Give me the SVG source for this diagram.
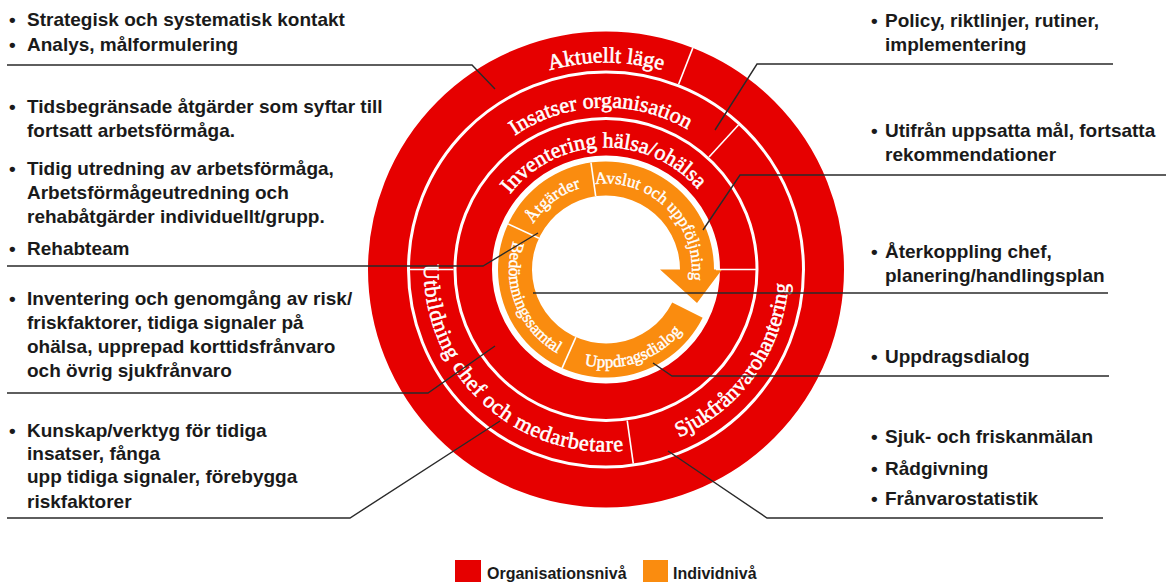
<svg xmlns="http://www.w3.org/2000/svg" width="1166" height="582" viewBox="0 0 1166 582">
<style>
.lbl{font-family:"Liberation Sans",Arial,sans-serif;font-weight:bold;font-size:19px;fill:#1a1a1a}
.ring{font-family:"Liberation Serif","Times New Roman",serif;font-size:22px;fill:#fff;stroke:#fff;stroke-width:0.55}
.oring{font-family:"Liberation Serif","Times New Roman",serif;font-size:17px;fill:#fff;stroke:#fff;stroke-width:0.4}
.div{stroke:#fff;stroke-width:1.6;fill:none}
.wr{stroke:#fff;stroke-width:3;fill:none}
.conn{stroke:#2a2a2a;stroke-width:1.4;fill:none}
.leg{font-family:"Liberation Sans",Arial,sans-serif;font-weight:bold;font-size:16px;fill:#1a1a1a}
</style>
<defs>
<path id="pAkt" d="M426.73,166 A207,207 0 0 1 785.27,166"/>
<path id="pIns" d="M462.96,193.45 A162,162 0 0 1 743.38,183.65"/>
<path id="pInv" d="M490.30,230.79 A122,122 0 0 1 719.51,224.79"/>
<path id="pUtb" d="M438.47,198.39 A182,182 0 0 0 688.63,431.66"/>
<path id="pSju" d="M588.46,451.66 A183,183 0 0 0 772.52,193.61"/>
<path id="pAtg" d="M522.04,250.89 A85,85 0 0 1 609.75,184.58"/>
<path id="pAvs" d="M569.65,191.56 A86,86 0 0 1 683.94,305.85"/>
<path id="pBed" d="M530.09,209.12 A97,97 0 0 0 591.66,365.43"/>
<path id="pUpp" d="M555.53,353.50 A98,98 0 0 0 697.49,304.62"/>
</defs>

<g id="organisation-rings">
<circle cx="606" cy="269.5" r="176" fill="none" stroke="#e60000" stroke-width="124"/>
<circle class="wr" cx="606" cy="269.5" r="197.5"/>
<circle class="wr" cx="606" cy="269.5" r="151"/>
<line class="div" x1="678.61" y1="84.22" x2="692.84" y2="47.91"/>
<line class="div" x1="709.03" y1="157.06" x2="738.42" y2="124.99"/>
<line class="div" x1="453.5" y1="269.5" x2="410" y2="269.5"/>
<line class="div" x1="627.22" y1="420.52" x2="633.28" y2="463.59"/>
</g>

<g id="aktuellt-lage"><text class="ring"><textPath href="#pAkt" startOffset="50%" text-anchor="middle">Aktuellt läge</textPath></text></g>
<g id="insatser-organisation"><text class="ring"><textPath href="#pIns" startOffset="50%" text-anchor="middle">Insatser organisation</textPath></text></g>
<g id="inventering"><text class="ring"><textPath href="#pInv" startOffset="50%" text-anchor="middle">Inventering hälsa/ohälsa</textPath></text></g>
<g id="utbildning"><text class="ring" letter-spacing="0.6"><textPath href="#pUtb" startOffset="50%" text-anchor="middle">Utbildning chef och medarbetare</textPath></text></g>
<g id="sjukfranvaro"><text class="ring"><textPath href="#pSju" startOffset="50%" text-anchor="middle">Sjukfrånvarohantering</textPath></text></g>

<g id="individ-ring">
<path d="M702.65,317.69 A108,108 0 1 1 714,269.5 L722,269.5 L697,303 L660,269.5 L680,269.5 A74,74 0 1 0 672.22,302.52 Z" fill="#fa8c0f"/>
<line class="div" x1="538.93" y1="238.23" x2="508.12" y2="223.86"/>
<line class="div" x1="595.70" y1="196.22" x2="590.97" y2="162.55"/>
<line class="div" x1="575.90" y1="337.10" x2="562.07" y2="368.16"/>
<line class="div" x1="716" y1="269.5" x2="756" y2="269.5"/>
</g>
<g id="atgarder"><text class="oring"><textPath href="#pAtg" startOffset="50%" text-anchor="middle">Åtgärder</textPath></text></g>
<g id="avslut"><text class="oring" font-size="16.5"><textPath href="#pAvs" startOffset="50%" text-anchor="middle">Avslut och uppföljning</textPath></text></g>
<g id="bedomning"><text class="oring"><textPath href="#pBed" startOffset="50%" text-anchor="middle">Bedömningssamtal</textPath></text></g>
<g id="uppdragsdialog"><text class="oring"><textPath href="#pUpp" startOffset="50%" text-anchor="middle">Uppdragsdialog</textPath></text></g>

<g id="connectors">
<polyline class="conn" points="7,65 472,65 495,89"/>
<polyline class="conn" points="7,266 483,266 538,233"/>
<polyline class="conn" points="7,393 428,393 495,346"/>
<polyline class="conn" points="7,518 350,518 500,421"/>
<polyline class="conn" points="1113,64 757,64 715,130"/>
<polyline class="conn" points="1166,175 740,175 703,230"/>
<polyline class="conn" points="533,293 1108,293"/>
<polyline class="conn" points="1109,376 672,376 653,363"/>
<polyline class="conn" points="1103,518 767,518 668,451"/>
</g>

<g id="note-left-1" class="lbl">
<text x="9" y="26">•</text><text x="27" y="26">Strategisk och systematisk kontakt</text>
<text x="9" y="51">•</text><text x="27" y="51">Analys, målformulering</text>
</g>
<g id="note-left-2" class="lbl">
<text x="9" y="113">•</text><text x="27" y="113">Tidsbegränsade åtgärder som syftar till</text>
<text x="27" y="137">fortsatt arbetsförmåga.</text>
<text x="9" y="175">•</text><text x="27" y="175">Tidig utredning av arbetsförmåga,</text>
<text x="27" y="199">Arbetsförmågeutredning och</text>
<text x="27" y="223">rehabåtgärder individuellt/grupp.</text>
<text x="9" y="255">•</text><text x="27" y="255">Rehabteam</text>
</g>
<g id="note-left-3" class="lbl">
<text x="9" y="305">•</text><text x="27" y="305">Inventering och genomgång av risk/</text>
<text x="27" y="329">friskfaktorer, tidiga signaler på</text>
<text x="27" y="353">ohälsa, upprepad korttidsfrånvaro</text>
<text x="27" y="377">och övrig sjukfrånvaro</text>
</g>
<g id="note-left-4" class="lbl">
<text x="9" y="437">•</text><text x="27" y="437">Kunskap/verktyg för tidiga</text>
<text x="27" y="460">insatser, fånga</text>
<text x="27" y="483">upp tidiga signaler, förebygga</text>
<text x="27" y="508">riskfaktorer</text>
</g>
<g id="note-right-1" class="lbl">
<text x="871" y="27">•</text><text x="885" y="27">Policy, riktlinjer, rutiner,</text>
<text x="885" y="51">implementering</text>
</g>
<g id="note-right-2" class="lbl">
<text x="871" y="137">•</text><text x="885" y="137">Utifrån uppsatta mål, fortsatta</text>
<text x="885" y="161">rekommendationer</text>
</g>
<g id="note-right-3" class="lbl">
<text x="871" y="258">•</text><text x="885" y="258">Återkoppling chef,</text>
<text x="885" y="282">planering/handlingsplan</text>
</g>
<g id="note-right-4" class="lbl">
<text x="871" y="363">•</text><text x="885" y="363">Uppdragsdialog</text>
</g>
<g id="note-right-5" class="lbl">
<text x="871" y="443">•</text><text x="885" y="443">Sjuk- och friskanmälan</text>
<text x="871" y="475">•</text><text x="885" y="475">Rådgivning</text>
<text x="871" y="505">•</text><text x="885" y="505">Frånvarostatistik</text>
</g>

<g id="legend">
<rect x="455" y="560" width="26" height="24" fill="#e60000"/>
<text class="leg" x="487" y="579">Organisationsnivå</text>
<rect x="643" y="560" width="25" height="24" fill="#fa8c0f"/>
<text class="leg" x="673" y="579">Individnivå</text>
</g>
</svg>
